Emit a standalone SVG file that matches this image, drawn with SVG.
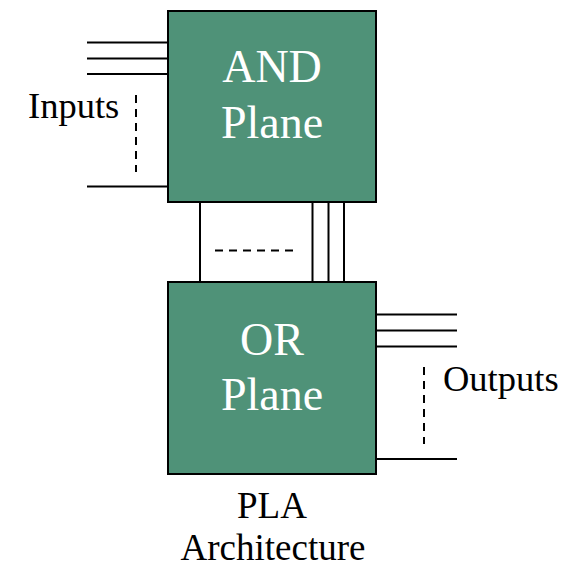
<svg xmlns="http://www.w3.org/2000/svg" width="570" height="568" viewBox="0 0 570 568">
  <style>
    .plane { fill: #4f9278; stroke: #000; stroke-width: 2; }
    .wire { stroke: #000; stroke-width: 2; fill: none; }
    .dash { stroke: #000; stroke-width: 2; fill: none; stroke-dasharray: 8 6; }
    .ptext { font-family: "Liberation Serif", "Times New Roman", serif; font-size: 46px; fill: #fff; text-anchor: middle; }
    .label { font-family: "Liberation Serif", "Times New Roman", serif; font-size: 36.5px; fill: #000; }
    .caption { font-family: "Liberation Serif", "Times New Roman", serif; font-size: 37px; fill: #000; text-anchor: middle; }
  </style>
  <rect width="570" height="568" fill="#fff"/>
  <g id="connectors">
    <!-- inputs -->
    <line class="wire" x1="87" y1="42.5" x2="168" y2="42.5"/>
    <line class="wire" x1="87" y1="58.5" x2="168" y2="58.5"/>
    <line class="wire" x1="87" y1="74" x2="168" y2="74"/>
    <line class="wire" x1="87" y1="186.5" x2="168" y2="186.5"/>
    <line class="dash" x1="136" y1="95" x2="136" y2="172"/>
    <!-- product terms -->
    <line class="wire" x1="200" y1="202" x2="200" y2="282"/>
    <line class="wire" x1="312.5" y1="202" x2="312.5" y2="282"/>
    <line class="wire" x1="328.5" y1="202" x2="328.5" y2="282"/>
    <line class="wire" x1="344" y1="202" x2="344" y2="282"/>
    <line class="dash" x1="215" y1="250.5" x2="295" y2="250.5"/>
    <!-- outputs -->
    <line class="wire" x1="376" y1="314.5" x2="457" y2="314.5"/>
    <line class="wire" x1="376" y1="330.5" x2="457" y2="330.5"/>
    <line class="wire" x1="376" y1="346.5" x2="457" y2="346.5"/>
    <line class="wire" x1="376" y1="459" x2="457" y2="459"/>
    <line class="dash" x1="424" y1="367" x2="424" y2="444"/>
  </g>
  <g id="and-plane">
    <rect class="plane" x="168" y="11" width="208" height="191"/>
    <text class="ptext" x="272" y="82">AND</text>
    <text class="ptext" x="272" y="138">Plane</text>
  </g>
  <g id="or-plane">
    <rect class="plane" x="168" y="282" width="208" height="192"/>
    <text class="ptext" x="272" y="355">OR</text>
    <text class="ptext" x="272" y="410">Plane</text>
  </g>
  <text class="label" x="28" y="118">Inputs</text>
  <text class="label" x="443" y="391">Outputs</text>
  <text class="caption" x="272" y="518">PLA</text>
  <text class="caption" x="273" y="560">Architecture</text>
</svg>
